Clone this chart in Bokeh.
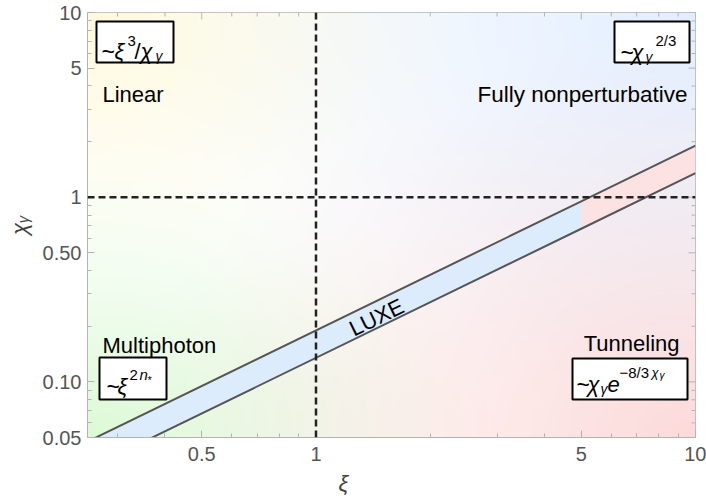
import numpy as np
from math import log10, atan
from bokeh.plotting import figure
from bokeh.models import Range1d, FixedTicker, Label, BoxAnnotation, Span, Title
from bokeh.embed import file_html
from bokeh.resources import INLINE

# ---------------- data ----------------
xi_range = [0.25, 10]
chi_range = [0.05, 10]
x_ticks = [0.5, 1, 5, 10]
x_tick_labels = ["0.5", "1", "5", "10"]
x_minor = [0.3, 0.4, 0.6, 0.7, 0.8, 0.9, 2, 3, 4, 6, 7, 8, 9]
y_ticks = [0.05, 0.1, 0.5, 1, 5, 10]
y_tick_labels = ["0.05", "0.10", "0.50", "1", "5", "10"]
y_minor = [0.06, 0.07, 0.08, 0.09, 0.2, 0.3, 0.4, 0.6, 0.7, 0.8, 0.9, 2, 3, 4, 6, 7, 8, 9]
x_label = "ξ"
y_label = "χᵧ"

# LUXE band: chi at the upper and lower edges
band_xi_blue = [0.25, 5]
band_up_blue = [0.0475, 0.95]
band_lo_blue = [0.03375, 0.675]
band_xi_red = [5, 10]
band_up_red = [0.95, 1.9]
band_lo_red = [0.675, 1.35]
threshold_xi = 1
threshold_chi = 1

FONT = "Liberation Sans"
FRAME = "#b3b3b3"

# frame position in page pixels
FL, FR, FT, FB = 87, 695, 12, 437
W, H = 706, 504

p = figure(width=W, height=H, x_axis_type="log", y_axis_type="log",
           x_range=Range1d(*xi_range), y_range=Range1d(*chi_range),
           output_backend="svg", toolbar_location=None,
           min_border_left=FL, min_border_right=W - FR, min_border_top=FT, min_border_bottom=H - FB)
p.grid.visible = False
p.outline_line_color = FRAME
p.background_fill_color = "white"
p.border_fill_color = "white"

# ---------------- background gradient ----------------
ny, nx = 150, 200
u = np.linspace(0, 1, nx)[None, :]
v = np.linspace(0, 1, ny)[:, None]
corners = [((0, 1), (255, 250, 220), 0.65), ((1, 1), (226, 238, 255), 0.95),
           ((0, 0), (220, 250, 214), 0.68), ((1, 0), (252, 218, 218), 0.95)]
img = np.ones((ny, nx, 3)) * 255.0
for (cx, cy), col, R in corners:
    d = np.sqrt((u - cx) ** 2 + (v - cy) ** 2)
    w = np.clip(1 - d / R, 0, 1) ** 1.3
    img = img + (np.array(col, dtype=float) - 255.0) * w[..., None]
rgba = np.empty((ny, nx), dtype=np.uint32)
view = rgba.view(dtype=np.uint8).reshape((ny, nx, 4))
view[..., :3] = np.clip(img, 0, 255).astype(np.uint8)
view[..., 3] = 255
p.image_rgba(image=[rgba], x=xi_range[0], y=chi_range[0],
             dw=xi_range[1] - xi_range[0], dh=chi_range[1] - chi_range[0])

# ---------------- LUXE band ----------------
p.varea(x=band_xi_blue, y1=band_lo_blue, y2=band_up_blue, fill_color="#dcecfc")
p.varea(x=band_xi_red, y1=band_lo_red, y2=band_up_red, fill_color="#fde2e4")
p.line(x=band_xi_blue + band_xi_red[1:], y=band_up_blue + band_up_red[1:], line_color="#555555", line_width=2)
p.line(x=band_xi_blue + band_xi_red[1:], y=band_lo_blue + band_lo_red[1:], line_color="#555555", line_width=2)

# ---------------- dashed thresholds ----------------
p.add_layout(Span(location=threshold_xi, dimension="height", line_color="#222222",
                  line_width=2.5, line_dash="7 4"))
p.add_layout(Span(location=threshold_chi, dimension="width", line_color="#222222",
                  line_width=2.5, line_dash="7 4"))

# ---------------- axes ----------------
def style_axis(ax):
    ax.axis_line_color = FRAME
    ax.major_tick_line_color = FRAME
    ax.minor_tick_line_color = FRAME
    ax.major_tick_in = 7
    ax.major_tick_out = 0
    ax.minor_tick_in = 4
    ax.minor_tick_out = 0
    ax.major_label_text_font = FONT
    ax.major_label_text_font_size = "20px"
    ax.major_label_text_color = "#555555"

xa = p.xaxis[0]
xa.ticker = FixedTicker(ticks=x_ticks, minor_ticks=x_minor)
xa.major_label_overrides = dict(zip(x_ticks, x_tick_labels))
style_axis(xa)
xa.major_label_standoff = 9
ya = p.yaxis[0]
ya.ticker = FixedTicker(ticks=y_ticks, minor_ticks=y_minor)
ya.major_label_overrides = dict(zip(y_ticks, y_tick_labels))
style_axis(ya)
ya.major_label_standoff = 6
ya.axis_label = y_label
ya.axis_label_text_font = FONT
ya.axis_label_text_font_style = "italic"
ya.axis_label_text_font_size = "22px"
ya.axis_label_text_color = "#444444"
ya.axis_label_standoff = 8

# x label drawn as a title below the axis, offset to where the reference puts it
p.add_layout(Title(text=x_label, align="left", offset=251, standoff=10, text_font=FONT,
                   text_font_style="italic", text_font_size="22px", text_color="#444444"), "below")

# ---------------- pixel <-> data helpers for annotations ----------------
lx0, lx1 = log10(xi_range[0]), log10(xi_range[1])
ly0, ly1 = log10(chi_range[0]), log10(chi_range[1])

def dx(px):
    return 10 ** (lx0 + (px - FL) / (FR - FL) * (lx1 - lx0))

def dy(py):
    return 10 ** (ly1 - (py - FT) / (FB - FT) * (ly1 - ly0))

# tick marks on top and right frame edges (mirror of bottom / left)
for ticks, ln in ((x_ticks, 7), (x_minor, 4)):
    p.segment(x0=ticks, x1=ticks, y0=[chi_range[1]] * len(ticks), y1=[dy(FT + ln)] * len(ticks),
              line_color=FRAME, line_width=1)
for ticks, ln in ((y_ticks, 7), (y_minor, 4)):
    p.segment(x0=[xi_range[1]] * len(ticks), x1=[dx(FR - ln)] * len(ticks), y0=ticks, y1=ticks,
              line_color=FRAME, line_width=1)

def txt(s, px, py, size, italic=False, align="left", baseline="alphabetic", angle=0.0, color="black"):
    p.add_layout(Label(x=dx(px), y=dy(py), text=s, text_font=FONT, text_font_size=f"{size}px",
                       text_font_style="italic" if italic else "normal", text_align=align,
                       text_baseline=baseline, angle=angle, text_color=color))

def box(l, t, r, b):
    p.add_layout(BoxAnnotation(left=dx(l), right=dx(r), top=dy(t), bottom=dy(b),
                               fill_color="white", fill_alpha=1.0, line_color="black",
                               line_width=2, line_alpha=1.0))

# boxes
box(96, 21, 173, 62)
box(614, 21, 689, 62)
box(99, 357, 166, 399)
box(572, 358, 687, 399)

# ~xi^3/chi_gamma
txt("~", 101, 51, 23)
txt("ξ", 114, 51, 22, italic=True)
txt("3", 127, 40, 15)
txt("/", 134, 51, 22)
txt("χ", 140, 51, 22, italic=True)
txt("γ", 155, 55, 14, italic=True)

# ~chi_gamma^{2/3}
txt("~", 620, 52, 23)
txt("χ", 631, 52, 22, italic=True)
txt("γ", 645, 56, 14, italic=True)
txt("2/3", 655, 40, 15)

# ~xi^{2 n*}
txt("~", 106, 386, 23)
txt("ξ", 117, 386, 22, italic=True)
txt("2", 129, 374, 15)
txt("n", 139, 374, 15, italic=True)
txt("*", 147, 379, 11)

# ~chi_gamma e^{-8/3 chi_gamma}
txt("~", 576, 384, 23)
txt("χ", 587, 384, 22, italic=True)
txt("γ", 600, 388, 14, italic=True)
txt("e", 607, 384, 22, italic=True)
txt("−8/3", 619, 372, 15)
txt("χ", 651, 372, 13, italic=True)
txt("γ", 659, 375, 10, italic=True)

# regime names
txt("Linear", 102, 94, 22)
txt("Fully nonperturbative", 687, 94, 22.5, align="right")
txt("Multiphoton", 102, 345, 22)
txt("Tunneling", 679, 343, 22, align="right")

# LUXE band label
txt("LUXE", 376, 317, 22, align="center", baseline="middle", angle=atan(185 / 380))

open("out.html", "w").write(file_html(p, INLINE))
